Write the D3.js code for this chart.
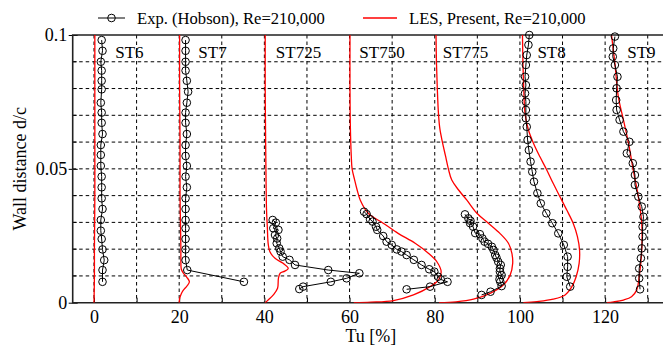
<!DOCTYPE html>
<html>
<head>
<meta charset="utf-8">
<script src="https://cdn.jsdelivr.net/npm/d3@7"></script>
<style>
  html, body { margin: 0; padding: 0; background: #fff; }
  svg { display: block; }
  svg text { font-family: "Liberation Serif", "DejaVu Serif", serif !important; fill: #000; }
</style>
</head>
<body>
<svg id="chart" width="663" height="350"></svg>
<script>
// ---------------- data (x = Tu [%] incl. station offset, d = wall distance d/c) ----------------
const stations = ["ST6", "ST7", "ST725", "ST750", "ST775", "ST8", "ST9"];
const stationLabelTu = [5, 24.5, 42.7, 62.3, 81.9, 104.1, 125.2];
const xTicks = [0, 10, 20, 30, 40, 50, 60, 70, 80, 90, 100, 110, 120, 130];
const xTickLabels = [0, 20, 40, 60, 80, 100, 120];
const yTicks = [0, 0.05, 0.1];
const yMinorTicks = [0.01, 0.02, 0.03, 0.04, 0.06, 0.07, 0.08, 0.09];
const legendLabels = ["Exp. (Hobson), Re=210,000", "LES, Present, Re=210,000"];

// experiment: [d/c, Tu]
const expST6 = [[0.0981,1.8],[0.0941,2.0],[0.0900,1.6],[0.0867,1.8],[0.0829,1.8],[0.0797,1.8],[0.0747,1.6],[0.0710,1.8],[0.0672,1.8],[0.0630,2.0],[0.0589,1.6],[0.0552,1.6],[0.0511,1.6],[0.0471,1.8],[0.0431,1.8],[0.0390,1.8],[0.0350,2.0],[0.0309,1.6],[0.0269,1.6],[0.0238,1.8],[0.0199,2.0],[0.0159,2.4],[0.0122,2.0],[0.0078,2.0]];
const expST7 = [[0.0981,21.5],[0.0941,21.5],[0.0900,21.5],[0.0867,21.5],[0.0829,21.8],[0.0788,22.1],[0.0747,21.8],[0.0710,21.5],[0.0672,21.5],[0.0630,21.8],[0.0589,21.5],[0.0548,21.5],[0.0511,21.8],[0.0471,21.5],[0.0431,21.8],[0.0390,21.5],[0.0350,21.5],[0.0309,21.5],[0.0278,21.5],[0.0238,21.5],[0.0199,21.5],[0.0159,21.5],[0.0122,21.9],[0.0078,35.2]];
const expST725 = [[0.0309,41.95],[0.0299,42.7],[0.0278,42.1],[0.0272,43.3],[0.0253,42.5],[0.0240,43.0],[0.0222,42.9],[0.0203,43.5],[0.0191,43.8],[0.0172,44.3],[0.0160,45.9],[0.0141,47.2],[0.0122,55.0],[0.0110,62.3],[0.0091,59.3],[0.0078,55.6],[0.0060,49.1],[0.0051,48.2]];
const expST750 = [[0.0340,63.4],[0.0331,64.0],[0.0312,64.8],[0.0303,65.4],[0.0284,66.2],[0.0272,66.5],[0.0249,67.9],[0.0228,68.7],[0.0216,69.9],[0.0199,71.1],[0.0191,72.2],[0.0178,73.4],[0.0160,75.1],[0.0141,76.9],[0.0125,78.7],[0.0116,79.9],[0.0097,80.8],[0.0087,81.4],[0.0078,83.0],[0.0060,78.9],[0.0050,73.4]];
const expST775 = [[0.0330,87.1],[0.0315,87.9],[0.0306,88.4],[0.0297,88.3],[0.0284,89.0],[0.0260,89.5],[0.0256,90.6],[0.0240,91.2],[0.0228,91.7],[0.0220,92.5],[0.0209,93.4],[0.0197,93.8],[0.0178,94.2],[0.0168,94.5],[0.0153,94.9],[0.0141,95.5],[0.0128,95.3],[0.0116,95.3],[0.0103,95.7],[0.0087,95.2],[0.0078,95.4],[0.0062,95.7],[0.0041,93.1],[0.0029,91.0]];
const expST8 = [[0.1000,102.2],[0.0963,102.0],[0.0925,101.6],[0.0888,101.4],[0.0844,101.2],[0.0813,101.4],[0.0782,101.2],[0.0751,101.4],[0.0720,101.4],[0.0689,101.4],[0.0657,101.6],[0.0608,101.8],[0.0570,102.1],[0.0527,102.5],[0.0489,102.9],[0.0452,103.3],[0.0409,104.1],[0.0371,104.9],[0.0334,106.2],[0.0297,107.6],[0.0259,109.0],[0.0216,110.3],[0.0172,111.2],[0.0134,111.2],[0.0097,111.0],[0.0060,111.8]];
const expST9 = [[0.0994,122.3],[0.0950,121.9],[0.0919,121.8],[0.0888,122.3],[0.0844,122.9],[0.0801,122.7],[0.0757,122.6],[0.0720,122.7],[0.0683,123.4],[0.0639,124.3],[0.0601,125.7],[0.0558,125.1],[0.0521,126.5],[0.0477,127.0],[0.0440,127.0],[0.0396,127.8],[0.0359,128.6],[0.0321,129.0],[0.0284,128.8],[0.0247,128.8],[0.0203,128.6],[0.0166,128.4],[0.0128,128.0],[0.0091,128.0],[0.0050,128.2]];

// LES: [d/c, Tu]
const lesST6 = [[0.1,0.2],[0.08,0.2],[0.06,0.2],[0.04,0.2],[0.02,0.1],[0.01,0.1],[0,0.0]];
const lesST7 = [[0.1,20.1],[0.08,20.1],[0.06,20.2],[0.04,20.2],[0.03,20.3],[0.02,20.4],[0.015,20.4],[0.0125,20.5],[0.011,21.0],[0.0095,21.8],[0.0078,22.4],[0.0062,21.8],[0.0045,20.9],[0.003,20.4],[0.0015,20.1],[0,20.0]];
const lesST725 = [[0.1,40.2],[0.08,40.2],[0.06,40.3],[0.045,40.4],[0.035,40.5],[0.028,40.7],[0.022,40.9],[0.019,41.3],[0.0166,42.5],[0.0147,44.4],[0.0128,45.6],[0.0118,44.8],[0.011,43.7],[0.0091,43.3],[0.0054,43.1],[0.0029,42.1],[0.0012,41.0],[0,40.2]];
const lesST750 = [[0.1,60.1],[0.08,60.1],[0.065,60.2],[0.055,60.4],[0.05,60.6],[0.0458,61.2],[0.042,61.8],[0.0384,62.5],[0.0334,64.4],[0.0297,67.9],[0.0259,71.4],[0.0222,75.4],[0.0185,78.5],[0.0153,80.5],[0.0116,81.5],[0.0085,80.9],[0.006,78.9],[0.0029,75.0],[0.0008,70.3],[0.0002,65.0],[0,61.0]];
const lesST775 = [[0.1,80.3],[0.09,80.4],[0.08,80.6],[0.07,80.9],[0.065,81.2],[0.06,81.8],[0.055,82.5],[0.05,83.2],[0.0458,84.0],[0.0421,85.6],[0.0384,87.5],[0.0334,89.9],[0.0297,92.6],[0.0259,95.3],[0.0222,97.3],[0.0185,98.1],[0.0147,98.3],[0.0103,97.7],[0.0066,96.1],[0.0035,93.0],[0.0013,89.1],[0.0003,85.0],[0,81.0]];
const lesST8 = [[0.1,100.6],[0.09,100.7],[0.08,100.9],[0.0707,101.2],[0.0645,102.0],[0.0595,103.2],[0.0545,104.7],[0.0496,106.3],[0.0446,107.8],[0.0396,109.4],[0.0346,111.0],[0.0297,112.5],[0.0247,113.5],[0.0197,114.0],[0.0147,113.9],[0.0097,113.2],[0.006,112.2],[0.0029,110.6],[0.0013,107.8],[0.0004,104.0],[0,100.8]];
const lesST9 = [[0.1,121.5],[0.0894,122.3],[0.077,123.1],[0.0683,124.3],[0.0595,125.5],[0.0496,126.6],[0.0396,127.8],[0.0297,128.6],[0.0197,128.6],[0.0097,128.0],[0.0047,127.4],[0.0022,126.2],[0.001,124.3],[0.0003,122.0],[0,120.4]];

const expSeries = [expST6, expST7, expST725, expST750, expST775, expST8, expST9];
const lesSeries = [lesST6, lesST7, lesST725, lesST750, lesST775, lesST8, lesST9];

// ---------------- layout ----------------
const W = 663, H = 350;
const pLeft = 72.7, pTop = 35, pBottom = 302.7, pRight = 669;
const svg = d3.select("#chart");

const x = d3.scaleLinear().domain([-5, 135]).range([pLeft, pRight]);
const y = d3.scaleLinear().domain([0, 0.1]).range([pBottom, pTop]);

svg.append("defs").append("clipPath").attr("id", "plotclip")
  .append("rect").attr("x", pLeft).attr("y", pTop - 6).attr("width", W - pLeft).attr("height", pBottom - pTop + 6);

// grid
const grid = svg.append("g").attr("stroke", "#000").attr("stroke-width", 1).attr("stroke-dasharray", "3.5,3");
grid.selectAll("line.v").data(xTicks).join("line").attr("class", "v")
  .attr("x1", d => x(d)).attr("x2", d => x(d)).attr("y1", pTop).attr("y2", pBottom);
grid.selectAll("line.h").data(yMinorTicks.concat([0.05])).join("line").attr("class", "h")
  .attr("x1", pLeft).attr("x2", W).attr("y1", d => y(d)).attr("y2", d => y(d));

// axes
const xAxis = d3.axisBottom(x).tickValues(xTicks).tickSize(-5).tickPadding(8)
  .tickFormat(d => xTickLabels.includes(d) ? d : "");
const gx = svg.append("g").attr("transform", `translate(0,${pBottom})`).call(xAxis);
gx.attr("font-family", null);
gx.select(".domain").remove();
gx.selectAll("line").attr("stroke", "#000");
gx.selectAll("text").attr("font-size", 18);

const yAxis = d3.axisLeft(y).tickValues(yTicks).tickSize(4).tickPadding(1.5)
  .tickFormat(d => String(d));
const gy = svg.append("g").attr("transform", `translate(${pLeft},0)`).call(yAxis);
gy.attr("font-family", null);
gy.select(".domain").remove();
gy.selectAll("line").attr("stroke", "#000").attr("x2", -4).attr("x1", 5);
gy.selectAll("text").attr("font-size", 18);
svg.append("g").selectAll("line").data(yMinorTicks).join("line")
  .attr("x1", pLeft).attr("x2", pLeft + 4).attr("y1", d => y(d)).attr("y2", d => y(d))
  .attr("stroke", "#000");

// frame
svg.append("path")
  .attr("d", `M${W},${pTop}H${pLeft}V${pBottom}H${W}`)
  .attr("fill", "none").attr("stroke", "#222").attr("stroke-width", 1.6);

// LES curves
const lineLES = d3.line().x(p => x(p[1])).y(p => y(p[0])).curve(d3.curveCatmullRom.alpha(0.5));
svg.append("g").attr("clip-path", "url(#plotclip)").selectAll("path").data(lesSeries).join("path")
  .attr("d", lineLES).attr("fill", "none").attr("stroke", "#ff0000").attr("stroke-width", 1.3);

// experiment
const lineExp = d3.line().x(p => x(p[1])).y(p => y(p[0]));
const gExp = svg.append("g");
gExp.selectAll("path").data(expSeries).join("path")
  .attr("d", lineExp).attr("fill", "none").attr("stroke", "#000").attr("stroke-width", 1);
expSeries.forEach(s => {
  gExp.append("g").selectAll("circle").data(s).join("circle")
    .attr("cx", p => x(p[1])).attr("cy", p => y(p[0])).attr("r", 3.8)
    .attr("fill", "none").attr("stroke", "#000").attr("stroke-width", 1);
});

// station labels
svg.append("g").selectAll("text").data(stations).join("text")
  .attr("x", (d, i) => x(stationLabelTu[i])).attr("y", y(0.0913))
  .attr("font-size", 17).text(d => d);

// axis titles
svg.append("text").attr("x", (pLeft + pRight) / 2).attr("y", 342).attr("text-anchor", "middle")
  .attr("font-size", 18).text("Tu [%]");
svg.append("text").attr("transform", `translate(26,${(pTop + pBottom) / 2}) rotate(-90)`)
  .attr("text-anchor", "middle").attr("font-size", 18).text("Wall distance d/c");

// legend
const lg = svg.append("g");
lg.append("line").attr("x1", 98).attr("x2", 125).attr("y1", 18).attr("y2", 18).attr("stroke", "#000");
lg.append("circle").attr("cx", 111.5).attr("cy", 18).attr("r", 3.8).attr("fill", "none").attr("stroke", "#000");
lg.append("text").attr("x", 137).attr("y", 24).attr("font-size", 16.6).text(legendLabels[0]);
lg.append("line").attr("x1", 363).attr("x2", 397).attr("y1", 18).attr("y2", 18).attr("stroke", "#ff0000").attr("stroke-width", 1.3);
lg.append("text").attr("x", 409).attr("y", 24).attr("font-size", 16.6).text(legendLabels[1]);
</script>
</body>
</html>
